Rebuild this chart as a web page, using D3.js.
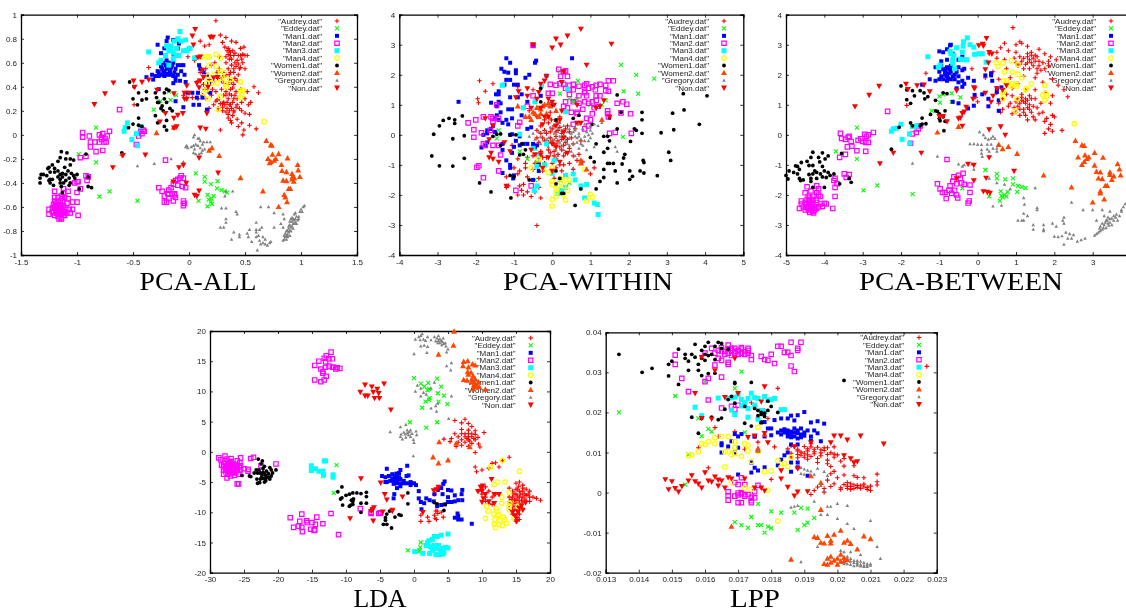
<!DOCTYPE html>
<html>
<head>
<meta charset="utf-8">
<script src="https://d3js.org/d3.v7.min.js"></script>
<style>
  html, body { margin: 0; padding: 0; background: #fff; overflow: hidden; }
  svg { display: block; filter: blur(0.35px); }
</style>
</head>
<body>
<svg id="chart" width="1126" height="609"></svg>
<script>
const seriesNames = ['"Audrey.dat"', '"Eddey.dat"', '"Man1.dat"', '"Man2.dat"', '"Man3.dat"', '"Man4.dat"', '"Women1.dat"', '"Women2.dat"', '"Gregory.dat"', '"Non.dat"'];

// PCA-ALL
const allAudrey = [[.24,.95],[.28,.83],[.33,.81],[.38,.78],[.2,.82],[.18,.75],[.14,.74],[.1,.78],[.3,.77],[.34,.7],[.37,.69],[.42,.77],[.46,.72],[.49,.73],[.5,.66],[.52,.66],[.47,.63],[.43,.62],[.4,.66],[.35,.67],[.36,.63],[.33,.6],[.38,.58],[.42,.57],[.48,.6],[.5,.55],[.44,.5],[.4,.52],[.35,.55],[.3,.52],[.27,.55],[.23,.6],[.2,.58],[.15,.55],[.1,.52],[.05,.62],[-.01,.65],[.08,.45],[.13,.42],[.18,.46],[.22,.44],[.26,.47],[.31,.43],[.36,.46],[.4,.42],[.43,.45],[.46,.38],[.42,.36],[.37,.38],[.33,.36],[.29,.38],[.24,.36],[.2,.33],[.15,.3],[.12,.33],[.08,.3],[.03,.31],[-.02,.31],[-.05,.33],[.27,.3],[.31,.27],[.35,.3],[.39,.27],[.43,.3],[.47,.27],[.5,.3],[.53,.25],[.55,.27],[.42,.23],[.38,.22],[.34,.22],[.3,.2],[.26,.22],[.22,.25],[.18,.22],[.35,.17],[.39,.16],[.43,.13],[.47,.2],[.5,.18],[.54,.17],[.54,.08],[.47,.1],[.44,.07],[.49,.04],[.6,.05],[.48,0],[.38,.1],[.28,.04],[.4,.3],[.33,.33],[.58,.4],[.62,.35],[.52,.36],[.36,.5],[.3,.48],[.25,.52],[.45,.55],[.38,.63],[.27,.65],[.32,.73],[-.36,.56],[-.49,.25],[-.6,-.17],[.36,.25],[.32,.25],[.38,.33],[.36,.7],[.39,.7],[.41,.68],[.44,.66],[.46,.66],[.48,.67],[.37,.66],[.35,.72],[.33,.65],[.41,.6],[.44,.59],[.46,.56],[.4,.55],[.37,.52],[.33,.5],[.29,.45],[.35,.42],[.39,.39],[.41,.33],[.36,.34],[.31,.33],[.34,.27],[.37,.25],[.4,.2],[.36,.2],[.33,.19],[.3,.26],[.28,.26],[.25,.29],[.3,.23],[.35,.14],[.37,.12],[.4,.19],[.43,.25],[.45,.22],[.24,.28],[.21,.38],[.17,.36],[.14,.38],[.41,.47],[.38,.44]];
const allEddey = [[-.83,.06],[-.985,-.16],[-.83,-.23],[-.71,-.47],[-.8,-.515],[-.46,-.55],[-.18,.36],[-.255,.28],[-.165,.29],[-.315,.21],[-.115,.33],[.06,-.32],[.14,-.35],[.14,-.39],[.195,-.41],[.255,-.385],[.25,-.445],[.29,-.46],[.32,-.47],[.34,-.48],[.165,-.5],[.22,-.51],[.085,-.55],[.175,-.54],[.195,-.555],[.165,-.595],[.205,-.575],[.2,-.53]];
const allMan1 = [[-.28,.75],[-.2,.78],[-.19,.81],[-.14,.79],[-.09,.76],[-.1,.72],[-.22,.72],[-.25,.68],[-.21,.66],[-.17,.7],[-.14,.67],[-.2,.62],[-.23,.6],[-.18,.59],[-.14,.6],[-.24,.55],[-.2,.55],[-.16,.56],[-.1,.58],[-.07,.58],[-.05,.58],[-.33,.5],[-.3,.49],[-.27,.52],[-.25,.5],[-.22,.49],[-.19,.5],[-.16,.5],[-.13,.52],[-.1,.5],[-.07,.53],[-.04,.5],[-.28,.53],[-.22,.53],[-.17,.53],[-.12,.48],[-.08,.45],[-.14,.43],[-.38,.48],[-.32,.46],[-.12,.45],[-.03,.44],[.09,.58],[.1,.55],[.18,.43],[-.01,.35],[.03,.35],[.04,.25],[.08,.35],[.07,.31],[.12,.31],[.09,.25],[.16,.21],[-.05,.23],[-.12,.28],[.19,.35],[-.27,.38],[.16,.5],[.13,.52],[-.21,.58],[-.19,.56],[-.23,.52],[-.2,.51],[-.18,.6],[-.15,.58],[-.12,.55],[-.25,.57],[-.27,.49],[-.14,.49]];
const allMan2 = [[-.62,.21],[-.95,.02],[-.95,-.02],[-.89,-.01],[-.88,-.06],[-.84,-.06],[-.8,-.06],[-.78,-.04],[-.75,-.03],[-.73,-.01],[-.78,-.02],[-.76,-.06],[-.74,-.06],[-.8,0],[-.77,.01],[-.71,.03],[-.88,-.1],[-.83,-.14],[-.77,-.13],[-.97,-.19],[-.92,-.18],[-.92,-.34],[-.91,-.38],[-.9,-.35],[-1,-.39],[-.99,-.39],[-1,-.48],[-1.02,-.4],[-.97,-.45],[-.47,-.08],[-.42,.01],[-.43,.03],[-.41,.04],[-.45,-.01],[-.4,.03],[-.21,-.21],[-.27,-.44],[-.24,-.47],[-.22,-.51],[-.19,-.49],[-.18,-.46],[-.16,-.44],[-.14,-.41],[-.12,-.38],[-.1,-.37],[-.08,-.36],[-.07,-.34],[-.05,-.36],[-.1,-.42],[-.06,-.43],[-.03,-.44],[-.15,-.49],[-.13,-.49],[-.12,-.52],[-.2,-.56],[-.14,-.55],[-.13,-.5],[-.05,-.55],[-.04,-.57],[-.05,-.59],[-.22,-.56],[-.18,-.53],[-1.2,-.47],[-1.12,-.45],[-1.12,-.48],[-1.08,-.47],[-1.2,-.52],[-1.17,-.52],[-1.14,-.51],[-1.11,-.52],[-1.08,-.53],[-1.04,-.56],[-1,-.56],[-1.2,-.55],[-1.17,-.56],[-1.13,-.55],[-1.09,-.57],[-1.21,-.58],[-1.18,-.59],[-1.15,-.58],[-1.12,-.59],[-1.25,-.62],[-1.22,-.61],[-1.19,-.62],[-1.16,-.61],[-1.13,-.62],[-1.1,-.62],[-1.07,-.62],[-1.04,-.62],[-1.25,-.66],[-1.21,-.65],[-1.18,-.65],[-1.15,-.65],[-1.12,-.65],[-1.09,-.65],[-1.06,-.65],[-.99,-.67],[-1.2,-.67],[-1.17,-.68],[-1.14,-.69],[-1.16,-.7],[-1.14,-.7],[-1.11,-.67],[-1.19,-.64],[-1.17,-.63],[-1.15,-.63],[-1.13,-.64],[-1.11,-.64],[-1.16,-.66],[-1.14,-.66],[-1.12,-.67],[-1.18,-.6],[-1.16,-.59],[-1.14,-.6],[-1.19,-.57],[-1.15,-.55],[-1.13,-.53],[-1.22,-.64],[-1.2,-.6]];
const allMan3 = [[-.36,.69],[-.27,.6],[-.25,.62],[-.21,.66],[-.18,.7],[-.2,.74],[-.16,.74],[-.13,.78],[-.1,.8],[-.08,.86],[-.07,.78],[-.03,.79],[0,.72],[.01,.72],[-.02,.7],[-.05,.7],[-.09,.66],[-.11,.66],[-.14,.63],[-.18,.58],[-.16,.7],[-.11,.72],[-.14,.68],[.05,.64],[-.58,.03],[-.57,.06],[-.55,.1],[-.51,-.04],[-.47,.01],[-.43,.07],[-.46,-.09]];
const allMan4 = [[.11,.65],[.16,.65],[.18,.65],[.24,.67],[.28,.64],[.18,.58],[.24,.57],[.28,.53],[.31,.52],[.17,.49],[.22,.5],[.28,.47],[.33,.46],[.37,.46],[.46,.44],[.25,.43],[.33,.42],[.16,.38],[.13,.35],[.46,.37],[.48,.37],[.47,.33],[.46,.31],[.28,.32],[.17,.3],[.26,.21],[.67,.11],[.33,.4],[.2,.43],[.16,.43]];
const allWomen1 = [[-1.32,-.33],[-1.33,-.36],[-1.33,-.4],[-1.3,-.33],[-1.27,-.34],[-1.26,-.28],[-1.25,-.27],[-1.24,-.31],[-1.22,-.25],[-1.25,-.38],[-1.24,-.37],[-1.22,-.37],[-1.24,-.4],[-1.21,-.42],[-1.2,-.31],[-1.17,-.22],[-1.15,-.19],[-1.14,-.14],[-1.1,-.2],[-1.09,-.15],[-1.06,-.25],[-1.03,-.21],[-1.06,-.2],[-1.13,-.32],[-1.15,-.33],[-1.17,-.35],[-1.13,-.35],[-1.1,-.33],[-1.07,-.36],[-1.05,-.32],[-1.03,-.34],[-1,-.33],[-1.02,-.36],[-1.15,-.4],[-1.12,-.4],[-1.1,-.38],[-1.06,-.4],[-1.14,-.43],[-1.13,-.48],[-1.07,-.42],[-1.15,-.37],[-1.08,-.3],[-1.11,-.27],[-1.17,-.3],[-1.2,-.28],[-.92,-.16],[-.9,-.35],[-.9,-.43],[-.87,-.44],[-.98,-.45],[-.6,-.15],[-.53,.44],[-.49,.4],[-.5,.3],[-.46,.25],[-.45,.35],[-.42,.29],[-.38,.36],[-.38,.3],[-.3,.35],[-.29,.31],[-.27,.27],[-.24,.24],[-.22,.3],[-.2,.27],[-.18,.37],[-.2,.38],[-.22,.35],[-.23,.2],[-.25,.22],[-.28,.27],[-.17,.22],[-.15,.2],[-.3,.16],[-.2,.12],[-.28,.1],[-.22,.07],[-.2,.04],[-.45,.08],[-.42,.07],[-.45,.14],[-.5,.09],[-.54,.06]];
const allWomen2 = [[-.29,.015],[-.135,.06],[.205,-.11],[.18,-.13],[.27,-.175],[.46,-.36],[.66,-.47],[.8,-.6],[.875,-.56],[.85,-.5],[.86,-.52],[.69,-.05],[.73,-.085],[.74,-.09],[.745,-.165],[.8,-.16],[.705,-.2],[.73,-.225],[.76,-.215],[.775,-.2],[.72,-.235],[.88,-.195],[.825,-.25],[.83,-.3],[.87,-.31],[.84,-.38],[.87,-.385],[.89,-.45],[.905,-.45],[.92,-.325],[.925,-.35],[.935,-.39],[.94,-.36],[.99,-.35],[.97,-.25],[.975,-.295],[.92,-.37]];
const allGregory = [[.04,-.09],[-.02,-.09],[-.03,-.1],[-.01,-.11],[.02,-.1],[.06,-.08],[.08,-.09],[.09,-.03],[.04,-.02],[.05,0],[.1,-.05],[.12,-.08],[.13,-.06],[.16,-.06],[.14,-.12],[.12,-.13],[.1,-.11],[.05,-.12],[.06,-.16],[.09,-.16],[.11,-.15],[.04,-.15],[.08,-.03],[.19,-.06],[-.31,-.24],[-.46,-.26],[-.16,-.2],[-.05,-.225],[.33,-.47],[.39,-.47],[.32,-.51],[.29,-.61],[.33,-.61],[.42,-.64],[.43,-.66],[.33,-.7],[.33,-.73],[.28,-.77],[.31,-.77],[.4,-.81],[.45,-.85],[.45,-.83],[.38,-.87],[.54,-.79],[.52,-.82],[.53,-.85],[.56,-.89],[.6,-.81],[.6,-.85],[.62,-.84],[.6,-.73],[.6,-.79],[.63,-.79],[.65,-.77],[.63,-.88],[.66,-.9],[.68,-.91],[.7,-.92],[.72,-.9],[.73,-.89],[.68,-.87],[.66,-.85],[.61,-.96],[.64,-.91],[.76,-.77],[.82,-.74],[.84,-.77],[.64,-.6],[.71,-.6],[.76,-.65],[.84,-.66],[.85,-.7],[.84,-.88],[.85,-.87],[.86,-.85],[.87,-.87],[.88,-.83],[.88,-.8],[.9,-.84],[.89,-.78],[.9,-.75],[.91,-.8],[.92,-.76],[.92,-.72],[.93,-.78],[.94,-.74],[.95,-.7],[.93,-.7],[.96,-.74],[.97,-.71],[.98,-.68],[.99,-.64],[1,-.62],[1.01,-.64],[1.02,-.6],[1.03,-.59],[.9,-.72],[.88,-.85],[.86,-.82],[.9,-.8],[.94,-.66],[.95,-.65],[.98,-.7],[.91,-.77],[.93,-.74],[.89,-.81],[.87,-.8],[.92,-.69],[.94,-.71],[.96,-.68],[.91,-.7],[.89,-.76],[.87,-.84],[.85,-.84],[.95,-.73]];
const allNon = [[-.675,.435],[-.75,.345],[-.845,.255],[-.495,.45],[-.485,.4],[-.42,.44],[-.36,.46],[.055,.88],[.03,.825],[.19,.815],[.215,.815],[.04,.75],[.1,.65],[.08,.645],[.12,.54],[.1,.45],[.13,.48],[.22,.475],[.255,.48],[.17,.4],[.09,.395],[.07,.43],[-.02,.41],[-.04,.35],[0,.35],[-.04,.3],[-.02,.3],[-.135,.345],[-.285,.375],[-.055,.18],[-.1,.165],[-.135,.14],[-.21,.18],[-.26,.11],[-.11,.07],[-.135,.06],[.1,.06],[.15,.05],[.09,-.19],[-.05,-.25],[-.09,-.27],[-.39,-.165],[-.59,-.17],[-.68,-.27],[.26,-.315],[-.14,-.39],[-.025,-.4],[.09,-.465],[.05,-.5],[.07,-.51],[.16,.18]];

// PCA-WITHIN
const withinAudrey = [[-1.9,1.8],[-1.55,1.7],[-1.75,1.45],[-1.95,1.2],[-1.93,1.07],[-.5,1.5],[-.9,1.6],[-.6,.8],[-.4,.6],[-.3,.3],[-.2,.15],[-.1,.4],[0,.2],[.1,.1],[.2,.25],[.3,.1],[.4,.3],[.1,-.05],[-.05,-.1],[.25,-.15],[-.2,-.2],[.1,-.3],[.35,-.25],[-.1,-.5],[.05,-.55],[.25,-.5],[.45,-.45],[-.3,-.55],[-.5,-.7],[-.15,-.75],[.1,-.8],[.3,-.7],[.55,-.7],[.7,-.65],[-.7,-.95],[-.45,-.95],[-.2,-.95],[0,-.95],[.2,-1],[.45,-.95],[.65,-.85],[.8,-.9],[-1,-1.1],[-.85,-1.2],[-.7,-1.1],[-.5,-1.15],[-.25,-1.2],[.25,-1.2],[.55,-1.15],[1,-1.3],[1.1,-1.1],[-1.2,-1.4],[-.9,-1.3],[-.65,-1.4],[-.35,-1.45],[.05,-1.45],[-1.2,-1.75],[-1.15,-1.7],[-.85,-1.7],[-.8,-1.85],[-.75,-1.65],[-.65,-1.9],[-.55,-2.05],[-.45,-1.9],[-.3,-2.1],[-.35,-1.75],[-.75,-2],[-.9,-2],[-.4,-3.02],[-1.05,-.35],[-.9,-.8],[-.35,-.25],[.6,.2],[.5,-.1],[.75,-.2],[-.05,.75],[.2,.6],[-.15,.05],[.05,.3],[.15,.4],[.25,.05],[.35,.2],[-.05,.1],[0,-.2],[.15,-.2],[.3,-.35],[-.15,-.3],[-.25,-.1],[.05,-.35],[-.1,-.25],[.2,-.4],[.4,-.15],[.45,.1],[.1,.45],[-.2,.5],[-.3,.05],[-.4,-.1],[-.4,.15],[.55,-.3],[.05,-.7],[-.05,-.6],[.15,-.65],[.35,-.6],[-.25,-.75],[-.35,-.9],[-.65,-.75],[.1,-1.1],[.3,-1],[.15,.15],[-.02,.5]];
const withinEddey = [[1.8,2.33],[2.2,2],[2.67,1.87],[.67,1.8],[1.87,1.45],[2.25,1.37],[.2,1.37],[.55,1.15],[.55,1.1],[.65,1.2],[1.3,1],[1.4,1.15],[1.07,.95],[.2,2.12],[1.85,-.07],[-.85,-.55],[-.65,-.8],[-1.45,-.12],[-.45,-.45],[.45,-1.6],[-.45,-1.5],[.45,1.2],[1,1],[-1.4,.15],[-.4,-.9]];
const withinMan1 = [[-2.45,1.1],[-1.2,2.55],[-1.1,2.4],[-1.33,2.2],[-1.25,2.1],[-1.15,2.07],[-.95,2.15],[-.95,2.05],[-.7,1.9],[-.6,2],[-1.2,1.83],[-1.1,1.83],[-1,1.67],[-1.25,1.67],[-.9,1.67],[-.45,2.4],[-.42,2.47],[.52,2.55],[-.15,1.97],[-1.4,1.45],[-1.4,1.35],[-1.47,1.35],[-1.4,1.1],[-1.35,1.05],[-1.45,.95],[-1.6,1.07],[-1.1,1.25],[-.9,1.25],[-.8,1.35],[-.65,1.1],[-.8,.65],[-1.15,.85],[-1.05,.85],[-1.35,.75],[-1.45,.65],[-1.5,.55],[-1.4,.5],[-1.2,.5],[-1.3,.4],[-1.15,.35],[-1.55,.3],[-1.6,.2],[-1.7,.15],[-1.5,.1],[-1.7,.05],[-1.8,0],[-1.05,.55],[-.65,.2],[-.55,.25],[-.3,1.3],[-1.3,-.3],[-1.3,-.5],[-1.2,-.85],[-1.1,-1],[-1.1,-1.1],[-1.3,-1.27],[-1,-.4],[-1.05,-.6],[-.95,-.2],[-.85,-.05],[-.75,-.3],[-.85,-.35],[-.65,-.3],[-.5,-.3],[-.45,-.4],[-.35,-1],[-.35,-1.2],[-1,-1.35],[-1.02,-1.45],[-.5,-1.5],[-.4,-.35],[-.5,-.4],[-1.75,-.35],[-1.85,-.42],[-1.7,-.25],[-1.1,0],[-1.05,.02],[-.5,3]];
const withinMan2 = [[.17,2.18],[.3,2.1],[.35,2.13],[.22,1.95],[.4,1.95],[-.05,1.68],[.1,1.65],[.2,1.7],[.3,1.68],[.45,1.65],[.55,1.68],[.7,1.62],[.85,1.65],[.9,1.7],[1.15,1.65],[1.25,1.68],[1.4,1.65],[1.47,1.8],[1.6,1.8],[.35,1.55],[.45,1.5],[.55,1.5],[.85,1.45],[.95,1.55],[1.05,1.6],[1.13,1.5],[1.4,1.47],[1.47,1.45],[-.5,1.3],[-.1,1.38],[0,1.38],[.45,1.35],[.7,1.3],[.85,1.4],[.9,1.3],[1.15,1.3],[1.25,1.3],[.35,1.1],[.55,1.1],[.7,1.05],[.85,1.1],[.95,1.05],[1.05,1.1],[1.15,1.15],[.3,.95],[.4,.9],[.65,.75],[.8,.85],[1.1,.9],[1.2,.95],[1.45,.8],[1.05,.7],[1.7,1.05],[1.85,1.1],[1.95,1.02],[1.45,.7],[1.47,.6],[1.8,.73],[2.05,.7],[.5,.75],[.65,.7],[.9,.55],[1,.5],[.55,.35],[.85,.2],[.95,.3],[1.5,.05],[1.65,.08],[2.07,.05],[-2,.5],[-2.2,.4],[-2.05,.17],[-2.05,-.08],[-1.85,.07],[-1.8,.6],[-1.6,.6],[-1.55,.55],[-1.55,.45],[-1.62,.15],[-1.4,.55],[-1.45,1],[-.9,.3],[-.85,.42],[-.05,1],[-.65,.95],[-1.8,-.3],[-1.75,-.35],[-1.55,-.35],[-1.4,-.35],[-1.35,-.67],[-1.4,-1.2],[-1.92,-1.03],[-1.97,-1.08],[-1.8,-1.43],[-.95,-1.85],[-.55,-1.7],[-.35,-.7],[-.5,2.98]];
const withinMan3 = [[-1.3,1.65],[-.45,1.1],[-.28,1.65],[.4,1.52],[.35,.77],[-.75,.9],[-.85,.02],[-.5,-.45],[-.15,-.3],[-.4,-1.05],[-.2,-1],[.05,-.85],[0,-1.28],[.2,-1.5],[.35,-1.35],[.55,-1.3],[.6,-1.5],[.35,-1.75],[.25,-1.85],[.75,-1.7],[.9,-1.65],[.85,-2.1],[1.1,-2.27],[1.18,-2.32],[1.2,-2.65],[.15,-1.95],[-.4,-1.7],[-.47,-1.85],[-.35,-.7]];
const withinMan4 = [[0,-1.55],[.2,-1.45],[.25,-1.5],[.45,-1.5],[.85,-1.15],[-.55,-1.1],[-.35,-.8],[-.25,-1.1],[-.1,-1.25],[0,-1.1],[0,-1.65],[.1,-1.8],[.1,-1.9],[.15,-1.7],[.3,-1.7],[.35,-1.5],[.3,-2],[0,-2.15],[.1,-2.05],[0,-2.37],[.35,-2.17],[.9,-2.2],[1,-1.98],[1.05,-2.08],[.4,-1.85]];
const withinWomen1 = [[-3.15,-.7],[-2.95,-1.03],[-2.6,-1.04],[-2.3,-.78],[-3.1,.02],[-2.95,.3],[-2.85,.48],[-2.7,.55],[-2.55,.5],[-2.55,.38],[-2.35,.63],[-2.6,-.13],[-2.3,-.03],[-1.9,-1.6],[-1.6,-1.9],[-1.08,-2.1],[-1.1,-1.35],[-1,-1.4],[-.6,-1.5],[.1,-1.2],[.1,-1.63],[.25,-1.95],[.2,-1.45],[.3,-1.95],[.6,-2.35],[.75,-1.8],[1.15,-1.8],[1.25,-1.55],[1.35,-1.42],[1.35,-1.15],[1.65,-1.2],[1.7,-1.6],[1.35,-.58],[1.45,-.95],[1.5,-.95],[1.6,-.95],[1.45,-.45],[1.5,-.2],[1.35,-.05],[1.45,-.05],[1.1,-.9],[1,-.75],[1.15,-.3],[1.05,.35],[1.5,.57],[1.7,.2],[1.7,1.33],[1.8,.75],[2.15,.2],[2.2,.15],[2.35,.75],[2.35,.5],[2.35,.05],[2.05,-.22],[1.9,-.65],[1.87,-.77],[1.83,-.97],[2.03,-1.2],[2.03,-1.48],[2.1,-1.38],[2.3,-1.2],[2.4,-1.27],[2.38,-.85],[2.4,-.92],[2.75,-1.36],[2.85,.07],[3.05,-.58],[3.1,-.85],[3.15,.72],[3.18,.17],[3.43,1.37],[3.45,.83],[3.85,.35],[4.05,1.3],[.7,.65],[.55,.55],[-.7,-.5],[-.85,-.67],[-.75,-.65],[-.95,0],[-.8,-.3],[-1.1,0],[-.3,1.55],[-.3,1.1],[.1,.5],[0,1],[-1.35,.03],[-1.45,.02],[-1.35,-.35],[-1.55,-.05]];
const withinWomen2 = [[-.9,.95],[-.7,.6],[-.6,.6],[-.55,.5],[-.5,.75],[-.45,.7],[-.4,.9],[-.3,.85],[-.25,.95],[-.2,1],[-.15,.7],[-.1,1.05],[-.05,.95],[.1,.8],[1.3,.5],[.75,-.85],[.75,-.95],[.9,-1.15],[-.35,.6],[-.1,.6],[-.3,.7]];
const withinGregory = [[-.5,.05],[-.45,-.15],[-.3,-.05],[-.2,.1],[-.1,-.1],[-.05,.25],[.05,.05],[.1,-.1],[.15,.2],[.2,-.05],[.25,.15],[.3,0],[.35,-.2],[.4,.1],[.45,-.1],[.5,.05],[.55,-.3],[.6,.15],[.65,-.1],[.7,.05],[.75,-.3],[.8,.2],[.85,-.05],[.9,.1],[.95,-.2],[1,.3],[1.05,.05],[1.1,.35],[1.2,.3],[1.3,.4],[1.1,-.4],[.9,-.5],[.7,-.45],[.5,-.55],[.3,-.5],[.1,-.5],[-.1,-.4],[-.3,-.3],[.3,.3],[.5,.3],[.7,.35],[.2,.4],[.6,-.05],[.4,-.3],[.2,-.25],[-.05,-.25],[.75,-.15],[1,-.1],[1.65,-.4],[1.7,-.55],[.55,-1.1],[.6,-.7],[.15,-.7],[.35,-.05],[.55,.1],[.65,-.25],[.45,-.35],[.8,-.35],[.85,-.2],[.7,-.05],[.95,0],[.25,-.35],[.15,.1],[.05,-.15],[-.15,-.15],[-.35,.1],[-.6,-.05],[.6,.25],[.85,.35],[.45,.2],[.3,.15],[1,.15]];
const withinNon = [[.75,3.53],[.4,3.3],[.1,3.2],[.22,3],[0,2.9],[-.5,3],[1.55,3.03],[.9,2.33],[.3,2.1],[-.15,1.95],[-.2,1.8],[.25,1.75],[-.3,1.7],[-.88,1.45],[-.65,1.55],[-.95,1.25],[-.65,1.3],[-.35,1.42],[-.4,1.2],[0,1.1],[.05,1],[-.1,1.2],[-.55,.9],[-.3,.9],[-.2,.6],[.2,.5],[.65,.4],[.75,.4],[.65,1],[1.15,.9],[1.25,.95],[1.35,1.15],[1.5,.6],[-1.75,.55],[-1.55,.3],[-1.65,-.15],[-1.6,-.6],[-1.65,-.75],[-1.55,-.8],[-1.4,-.9],[-1.25,-.25],[-1.1,-.55],[-1.2,-1.7],[.25,.8],[.3,-.1],[0,-.3],[.1,-.4],[-.45,-.65],[-.55,-.5],[-.3,-.65],[-.1,-.75],[-.25,-1.1],[0,-1.2],[.4,-.6],[.2,-.9],[.3,.1],[.1,.3],[-.1,.6],[-.25,.35]];

// PCA-BETWEEN
const betweenAudrey = [[.92,3.57],[1.1,3.1],[1,3],[.7,3.05],[.6,2.9],[1.15,3.05],[1.3,2.95],[1.6,2.85],[.8,2.8],[.5,2.75],[.3,2.7],[1,2.75],[1.3,2.7],[1.4,2.65],[1.55,2.6],[1.75,2.7],[1.9,2.6],[2.05,2.5],[1.85,2.45],[1.7,2.4],[1.5,2.45],[1.35,2.5],[1.15,2.45],[.95,2.55],[.7,2.5],[.5,2.55],[1.1,2.35],[1.2,2.2],[1.35,2.2],[1.55,2.2],[1.75,2.2],[.75,2.2],[.4,2.1],[.2,1.9],[.55,1.85],[.85,1.9],[1.2,1.95],[1.5,1.9],[1.7,1.75],[1.95,1.85],[1.05,1.7],[.9,1.55],[1.25,1.5],[1.5,1.5],[1.75,1.4],[2.1,1.65],[2.25,1.5],[2.35,1.27],[1.95,1.3],[1.9,1.05],[1.65,1.05],[1.4,1.2],[1.15,1.25],[.9,1.3],[.65,1.2],[.55,1.05],[.85,1.05],[1.1,1.05],[1.35,1],[1.55,.9],[.95,.9],[1.2,.85],[1.4,.75],[1.7,.75],[1.95,.65],[2,.6],[1.8,.55],[.9,.7],[.6,.75],[.65,.85],[1.5,.5],[1.75,.45],[1.9,.35],[1.85,.2],[1.75,.05],[1.95,.12],[2.2,.15],[1.1,.65],[1.25,.65],[1.3,.5],[1.15,1.15],[1.2,1.1],[1,1.1],[1.05,.95],[1.25,1.05],[1.05,1.2],[1.4,2.4],[1.45,2.3],[1,2.4],[1.05,2.3],[1.25,2.35],[1.6,2.3],[-.15,2.2],[-1.35,2.05],[-1.85,.98],[-.05,1.25],[0,1.1],[.5,1.4],[1.3,2.6],[1.4,2.75],[1.45,2.55],[1.6,2.45],[1.3,2.4],[1.5,2.65],[1.2,2.55],[1.1,2.6],[1.65,2.15],[1.85,2.3],[1.55,2.05],[1.25,1.2],[1.35,1.3],[1.5,1.2],[1.3,.9],[1.45,.95],[1.1,.85],[1.35,.85],[1.2,.75],[1.15,1.35],[1,.75],[1.3,1.15],[1.6,.7],[1.45,.6],[.8,.95],[.75,1.35]];
const betweenEddey = [[-3.15,.24],[-3.7,-.55],[-3.15,-.8],[-2.98,-1.85],[-2.62,-1.68],[-1.7,-1.97],[-1,1.28],[-.98,1.07],[-1.2,.8],[-.9,1.35],[-.68,1.38],[-.68,1.1],[-.45,1.25],[.2,-1.17],[.5,-1.3],[.5,-1.45],[.72,-1.48],[.92,-1.45],[.92,-1.65],[1.05,-1.7],[1.15,-1.73],[1.25,-1.77],[.7,-2],[.6,-1.88],[.3,-2.05],[.62,-2.03],[.75,-2.05],[.58,-2.2],[.65,-2.08],[.78,-1.9],[1.03,-1.9],[-.4,-1.78]];
const betweenMan1 = [[-.72,2.98],[-.7,3],[-.8,2.85],[-.9,2.75],[-1,2.78],[-.65,2.7],[-.4,2.6],[-.35,2.5],[-.5,2.5],[-.8,2.5],[-.95,2.45],[-1.1,2.25],[-.95,2.3],[-.8,2.25],[-.7,2.3],[-.5,2.25],[-.35,2.2],[-1,2.1],[-.85,2.1],[-.7,2.1],[-.55,2.1],[-.4,2.15],[-1.25,1.85],[-1.1,1.8],[-1,1.85],[-.9,1.85],[-.8,1.8],[-.7,1.85],[-.6,1.85],[-.5,1.75],[-.4,1.8],[-.25,1.9],[-.95,1.95],[-.8,1.95],[-.65,1.95],[-.5,1.95],[-.1,1.8],[-.4,1.6],[-.55,1.55],[-.35,1.7],[-1.45,1.67],[.2,1.98],[.35,2.05],[.35,1.98],[.38,1.8],[.5,1.55],[.62,1.58],[-.08,1.33],[.12,1.35],[-.1,.97],[.28,1.2],[.28,.95],[.55,1.15],[.55,.8],[.5,1.43],[-.25,.88],[-.65,1.1],[-.5,1.05],[-.75,2.05],[-.78,1.9],[-.85,2],[-.72,2.18],[-.82,2.2],[-.9,2.18],[-.6,2]];
const betweenMan2 = [[-2.35,.78],[-3.58,.05],[-3.55,-.12],[-3.45,-.15],[-3.38,-.08],[-3.35,-.05],[-3.3,-.22],[-3.28,-.38],[-3.12,-.18],[-3.05,-.13],[-3,-.22],[-2.95,.02],[-2.9,-.05],[-2.85,0],[-2.92,-.25],[-2.85,-.25],[-2.72,.08],[-3.4,-.4],[-3.15,-.53],[-2.92,-.55],[-3.6,-.75],[-3.45,-.65],[-3.48,-1.3],[-3.43,-1.42],[-3.35,-1.32],[-3.72,-1.45],[-3.67,-1.63],[-3.75,-1.52],[-3.72,-1.75],[-3.72,-2.05],[-3.78,-2.45],[-1.75,-.28],[-1.7,.03],[-1.6,.08],[-1.55,.2],[-1.5,.3],[-.8,-.82],[-1.05,-1.63],[-.98,-1.8],[-.92,-1.92],[-.85,-1.92],[-.82,-2.12],[-.75,-1.85],[-.72,-1.7],[-.65,-1.55],[-.62,-1.4],[-.5,-1.35],[-.45,-1.45],[-.38,-1.28],[-.6,-1.85],[-.55,-1.63],[-.42,-1.6],[-.35,-1.65],[-.68,-1.95],[-.55,-2],[-.52,-2.1],[-.2,-1.67],[-.2,-1.92],[-.22,-2.2],[-.25,-2.27],[-4.6,-2.2],[-4.45,-1.73],[-4.5,-1.93],[-4.35,-1.87],[-4.2,-1.7],[-4.2,-1.92],[-4.1,-2.05],[-4,-2.28],[-4.42,-2.05],[-4.3,-2.05],[-4.15,-2],[-4.6,-2.3],[-4.5,-2.25],[-4.4,-2.2],[-4.3,-2.25],[-4.2,-2.25],[-4.1,-2.3],[-4.65,-2.45],[-4.55,-2.4],[-4.45,-2.4],[-4.35,-2.4],[-4.25,-2.4],[-4.15,-2.4],[-4.05,-2.38],[-4.5,-2.5],[-4.4,-2.52],[-4.3,-2.55],[-4.2,-2.45],[-4.38,-2.58],[-4.28,-2.6],[-3.95,-2.3],[-4.47,-2.33],[-4.4,-2.3],[-4.35,-2.35],[-4.3,-2.45],[-4.25,-2.5],[-4.45,-2.15],[-4.38,-2.1],[-4.3,-2.15],[-4.35,-2.5],[-4.42,-2.45],[-4.32,-2.32],[-4.48,-2.42],[-4.22,-2.18],[-4.15,-1.8]];
const betweenMan3 = [[-1.3,2.6],[-1.03,2.25],[-.98,2.32],[-.72,2.78],[-.7,2.7],[-.62,2.65],[-.65,2.5],[-.65,2.38],[-.6,2.2],[-.55,2.9],[-.4,2.75],[-.38,2.95],[-.37,3.1],[-.27,3.23],[-.2,3],[-.1,2.92],[-.08,2.68],[.03,2.7],[.12,2.7],[.22,2.42],[-.28,2.5],[-.35,2.5],[-.45,2.52],[-2.25,.12],[-2.2,.2],[-2.12,.22],[-2,.35],[-1.97,-.15],[-1.78,.03],[-1.7,.28],[-1.77,-.28],[-1.6,.3]];
const betweenMan4 = [[.48,2.4],[.53,2.28],[.66,2.4],[.88,2.47],[.7,2.1],[.9,2.1],[1.05,2.02],[1.15,1.9],[.68,1.8],[.75,1.8],[.9,1.7],[1,1.7],[1.02,1.62],[.87,1.62],[1.25,1.5],[1.27,1.55],[1.4,1.7],[1.75,1.65],[.68,1.45],[.65,1.4],[1.03,1.2],[.98,.8],[1.7,1.33],[1.78,1.38],[1.8,1.3],[1.75,1.15],[2.52,.37],[1.05,2.35],[.65,1.2]];
const betweenWomen1 = [[-5,-1.35],[-4.95,-1.47],[-4.92,-1.2],[-4.8,-1.25],[-4.7,-1.3],[-4.75,-1.03],[-4.7,-1.05],[-4.65,-1.15],[-4.6,-.92],[-4.55,-1.5],[-4.65,-1.45],[-4.62,-1.52],[-4.45,-.88],[-4.4,-1.02],[-4.3,-1.02],[-4.35,-.75],[-4.3,-.58],[-4.25,-1.2],[-4.15,-.75],[-4.12,-.9],[-4.05,-1.05],[-3.98,-.8],[-3.9,-.7],[-4.05,-.6],[-4.4,-1.32],[-4.3,-1.3],[-4.2,-1.25],[-4.1,-1.3],[-4,-1.2],[-3.9,-1.25],[-3.85,-1.35],[-3.75,-1.3],[-4.35,-1.45],[-4.35,-1.55],[-4.2,-1.45],[-4.05,-1.4],[-3.95,-1.42],[-4.3,-1.75],[-4,-1.75],[-3.6,-1.63],[-3.55,-.62],[-3.35,-1.45],[-3.3,-1.58],[-2.25,-.48],[-2,1.63],[-1.85,1.5],[-1.85,1.17],[-1.75,1.05],[-1.7,.3],[-1.7,1.47],[-1.65,1.3],[-1.5,1.47],[-1.4,1.4],[-1.38,1.2],[-1.35,.37],[-1.3,1.27],[-1.23,.68],[-1.1,.8],[-1.1,1.15],[-1.05,.78],[-1,.55],[-.9,1.4],[-.85,.8],[-1,.7],[-.9,.6],[-.88,.14],[-1.75,.4],[-1.45,.56],[-1.45,.36],[-1.5,.3],[-2.05,.25],[-.98,.47],[-.85,.45],[-.8,1.37]];
const betweenWomen2 = [[-1.05,.08],[-.5,.27],[.55,-.33],[.65,-.47],[.8,-.4],[1.03,-.63],[1.72,-1.35],[2.45,-1.75],[3,-2.25],[3.3,-2.15],[3.2,-1.88],[3.2,-1.95],[2.55,-.2],[2.72,-.35],[2.78,-.37],[2.62,-.75],[2.8,-.68],[2.72,-1],[2.78,-.9],[2.85,-.8],[2.9,-.75],[3.05,-.6],[3.27,-.76],[3.05,-1.02],[3.1,-1.23],[3.2,-1.25],[3.15,-1.45],[3.25,-1.47],[3.33,-1.7],[3.38,-1.7],[3.45,-1.25],[3.45,-1.33],[3.5,-1.5],[3.55,-1.38],[3.65,-.97],[3.7,-1.15],[3.73,-1.35]];
const betweenGregory = [[.05,.1],[.15,0],[.2,-.1],[.28,-.15],[.35,-.12],[.4,-.05],[.45,-.13],[-.2,-.3],[-.1,-.3],[0,-.32],[.1,-.33],[.25,-.32],[.35,-.32],[.4,-.45],[.25,-.48],[.1,-.5],[.1,-.62],[.12,-.73],[.3,-.55],[.5,-.45],[.5,-.55],[-1.05,-.72],[-1.7,-.95],[-.5,-.98],[-.35,-1],[-.1,-1.15],[-.4,-1.05],[-.15,-.98],[.3,-1.45],[.5,-1.6],[.7,-1.65],[.85,-1.8],[1.5,-1.77],[1.2,-2.1],[1.22,-2.32],[.4,-2.38],[.62,-2.35],[1.55,-2.43],[1.55,-2.5],[1.05,-2.85],[1.15,-2.85],[1.2,-2.85],[1.2,-2.62],[1.3,-2.7],[1.45,-3],[1.45,-3.15],[1.72,-3],[1.72,-3.15],[1.72,-3.2],[1.95,-2.95],[2.05,-3.05],[2.22,-2.85],[2.25,-2.75],[2.25,-2.95],[2,-3.38],[2.1,-3.4],[2.2,-3.37],[2.3,-3.25],[2.4,-3.3],[2.5,-3.33],[2.35,-3.45],[2.45,-3.45],[2.6,-3.55],[2.7,-3.5],[2.8,-3.45],[2.25,-3.65],[2.45,-2.25],[2.75,-2.5],[3,-2.5],[3.1,-2.85],[3.25,-2.5],[3.45,-2.55],[3.05,-3.35],[3.1,-3.3],[3.15,-3.25],[3.2,-3.2],[3.25,-3.15],[3.2,-3.05],[3.3,-3],[3.35,-3.1],[3.4,-2.95],[3.4,-2.75],[3.45,-2.8],[3.5,-3],[3.55,-2.85],[3.6,-2.75],[3.65,-2.85],[3.7,-2.7],[3.75,-2.55],[3.8,-2.4],[3.85,-2.3],[3.9,-2.25],[3.75,-2.5],[3.35,-2.85],[3.25,-2.95],[3.3,-2.7],[3.28,-3.1],[3.33,-2.92],[3.38,-2.85],[3.45,-2.92],[3.5,-2.78],[3.55,-2.7],[3.62,-2.65],[3.42,-3.02],[3.18,-3.12]];
const betweenNon = [[-3.2,.95],[-2.83,1.33],[-2.57,1.63],[-1.87,1.7],[-1.82,1.52],[-1.58,1.65],[-1.4,1.67],[-1.25,1.45],[.23,3.22],[.15,2.97],[.13,3.03],[.03,2.98],[.3,2.75],[.37,2.7],[.28,2.4],[.2,2.18],[-.08,1.55],[-.1,1.58],[.2,1.4],[-.12,1.2],[.4,1.3],[.35,1.1],[.75,1.65],[.5,1.55],[.65,1.5],[-.3,.93],[-.35,.77],[-.4,.72],[-.45,.57],[-.5,.55],[-1,.62],[-.9,.62],[-.8,.45],[-.4,.3],[.3,.18],[.6,.28],[.72,0],[.3,-.75],[-.25,-.97],[-.1,-1],[-2.2,-.6],[-2.55,-.95],[-1.47,-.6],[.95,-1.2],[.22,-1.43],[-.1,-1.52],[.15,-1.88],[.25,-1.9],[.32,-1.93],[-.55,-1.45],[-.55,1.48]];

// LDA
const ldaAudrey = [[7.5,5.4],[6,5.2],[7,4.8],[8,4.7],[8.5,4.2],[7,3.7],[8,3.6],[9,3.5],[10.3,3.2],[6,3],[7,3],[8,3],[9,2.9],[6.5,2.5],[7.5,2.5],[8.5,2.5],[9.4,2.4],[5.5,2.2],[7,2],[8,2],[9,2],[5.3,1.7],[6.5,1.6],[7.5,1.6],[8.5,1.4],[9.5,1.3],[7,1.1],[8,.9],[9.7,.8],[6.2,.9],[9,-.1],[4.4,2.1],[11,-2.7],[9,-2.5],[10,-3],[11.5,-1.9],[12,-1.8],[13,-1.5],[14,-.9],[12.5,-2.5],[9.2,-3.3],[10,-6],[10.5,-5.8],[9.5,-6.5],[10,-7],[10.5,-7.5],[11,-6.5],[11.5,-7.5],[10.5,-8.2],[11,-8.5],[11.5,-8.7],[12,-7],[14,-6],[14.5,-6.5],[15,-5.2],[15.5,-5],[16,-5.5],[14.5,-7.5],[15,-7],[15.5,-6.5],[16,-6.5],[16.5,-6.2],[17,-6.5],[14,-7.5],[15,-7.8],[15.5,-7.5],[16,-7.5],[16.5,-7.2],[17,-7.5],[17.5,-7.5],[18,-7.7],[18.6,-8],[14,-8.3],[14.5,-8.5],[15,-8.5],[15.5,-8.5],[16,-8.3],[16.5,-8.2],[17,-8.2],[14,-9.3],[14.5,-9.5],[15,-9.5],[15.5,-9.2],[16,-9.5],[14.5,-10.3],[15,-10.5],[15.5,-10.3],[15,-11.5],[15.5,-11.2],[1,-10.5],[1,-11.5],[2,-10.8],[2.2,-11.5],[3,-10.5],[3.5,-10.2],[3.3,-11.2],[3,-7],[3.5,-6],[3.2,-9.8],[4,-10],[3.1,-11],[3.4,-9.8],[4.3,-10.8],[14.7,-7],[15.2,-6.2],[15.7,-7],[16.2,-7],[14.8,-8],[15.3,-8],[15.8,-8],[16.3,-7.8],[16.8,-7],[14.3,-7.9],[15.2,-9],[15.7,-9],[14.7,-9],[15.2,-7.3],[16,-6],[15.4,-5.7],[15,-6.2],[8,2.5],[7.5,3],[8.5,3],[8.8,2.2],[8.2,1.8],[7.8,2.2]];
const ldaEddey = [[-.9,-16.3],[1,-15],[.9,-15.8],[.8,-16.3],[.7,-16.5],[2,-15],[-11.4,-2.2],[-13.4,-4],[-11.8,-6.8],[0,12.2],[1,11.3],[1.5,10.8],[2.1,11.4],[3.4,12.1],[2,10.2],[2.2,10.4],[3.5,9.7],[4,10.8],[4.4,9.3],[2.3,8.9],[2.2,8.6],[1.7,8.3],[3.6,8.3],[4.9,7.9],[1.2,7.3],[-.6,4.9],[1.8,4],[3.4,4.9]];
const ldaMan1 = [[-4,-2.8],[-4.7,-4],[-4.2,-4.2],[-3.7,-4],[-3.2,-3.7],[-2.7,-4],[-2.2,-3.5],[-2,-3],[-1,-2.3],[-1.1,-4],[-.8,-3.9],[-4,-5],[-3.5,-4.8],[-3,-4.7],[-2.5,-4.7],[-2,-4.5],[-1.5,-4.8],[-3,-5.3],[-2.5,-5.2],[-2,-5.2],[-1.5,-5.2],[-1,-5.2],[-.5,-5],[0,-5.2],[-4.2,-5],[-2.5,-6],[-2,-5.7],[-.5,-5.5],[.3,-5.5],[.7,-6.5],[-2.9,-7],[-3,-7.7],[.7,-7.7],[1,-8.3],[1.5,-8.5],[1.8,-7.7],[2.3,-8],[2.9,-8.2],[3,-7],[3.5,-6.3],[4,-6],[4.3,-5.3],[4.5,-4.9],[5,-6.3],[5.5,-6.4],[4.2,-7],[5,-7.5],[6,-7.2],[6,-8.2],[6.5,-8],[7,-7],[7.1,-6.3],[7.1,-8],[5,-8.3],[4,-8.8],[3.4,-9],[5.5,-8.3],[6.4,-10.2],[6.5,-10.6],[6,-10.9],[6.5,-11.2],[7,-11.2],[8.5,-11.9],[1.1,-9.5],[4.5,-8.7],[-2.8,-4.3],[-2.4,-4.2],[-2.2,-4.2],[-3.2,-4.4],[-2.6,-3.6]];
const ldaMan2 = [[-14.6,11.9],[-13.7,11.6],[-13.2,11.9],[-12.9,12.5],[-14.6,14.3],[-14,15],[-13.2,15.5],[-12.9,15.9],[-12.5,15.4],[-12.2,16.5],[-12,15.4],[-13,14.9],[-13.7,13.7],[-13.4,13.3],[-13.4,13],[-13,14],[-12.5,14.2],[-12,14],[-11.5,13.7],[-11.8,14],[-11.3,13.9],[-10.9,13.8],[-28.7,-1],[-28.4,-1.3],[-28,-2],[-27.8,-.7],[-27.5,-1.2],[-27,-1.6],[-26.5,-2],[-26,-1.5],[-25.5,-1],[-28,-2.5],[-27.5,-2.3],[-27,-2.4],[-26.5,-2.5],[-26,-2.5],[-25.5,-2.3],[-28,-3],[-27.5,-3],[-27,-3],[-26.5,-3],[-26,-3],[-25.5,-3],[-25,-2.8],[-28,-3.7],[-27,-3.6],[-26.5,-3.5],[-25.8,-3.7],[-27.5,-4.3],[-26.4,-3.9],[-26,-5.3],[-25.8,-5.3],[-24.4,-2.9],[-24,-1.1],[-23.6,-.9],[-22.5,-2.3],[-20.3,-2],[-24.4,-3.2],[-18.2,-10.9],[-16.5,-10.3],[-14.3,-10.8],[-17.7,-12.5],[-17,-12.3],[-16.8,-11.5],[-16.5,-12.5],[-16.4,-13.2],[-15.7,-11.7],[-15.8,-11.4],[-15.2,-12.8],[-15,-11.7],[-14.7,-13],[-14.5,-12],[-13.4,-11.9],[-14.6,-12.9],[-12.2,-10.2],[-11.1,-13.7],[-7.9,-9.4],[-6.3,-10.2],[-6.3,-10],[-5.2,-10.2],[-5,-10.1],[-4.9,-10.1],[-27.8,-1.7],[-27.3,-1.9],[-27.7,-2.7],[-27.2,-2.7],[-26.7,-2.7],[-26.2,-2.2],[-27.3,-2.2],[-26.8,-2.1],[-27.7,-3.3],[-27.2,-3.3],[-26.7,-3.3],[-26.2,-3.4],[-25.7,-2.6],[-25.6,-1.8],[-28.3,-2.2],[-27.4,-3.7],[-27,-4],[-26.9,-1.1]];
const ldaMan3 = [[-15.1,-2.3],[-15.1,-3.1],[-14.5,-2.8],[-14,-3.2],[-13.4,-3.2],[-13.3,-3.8],[-13.2,-1.5],[-13,-1.5],[-11.9,-3.8],[-11.9,-4.2],[.1,-16.5],[1.3,-16.8],[1.8,-15.5],[2,-15],[2.2,-14.7],[2.7,-14.5],[3,-14],[3.4,-14],[4,-13.8],[5,-13.6],[2.4,-15.7],[2.7,-16.3],[3,-15.5],[3.3,-16],[3.6,-15.5],[3.9,-16.2],[4.3,-16],[4.6,-15.8],[5,-15.9],[3.2,-17],[3.8,-17],[4.2,-16.9],[4.4,-16.7],[2.3,-16.8]];
const ldaMan4 = [[11.3,-2.5],[13,-1.4],[15.5,-3.2],[11.8,-5.4],[12.3,-5],[13.4,-5],[14,-6.7],[12.9,-7.5],[12.9,-8.5],[14.1,-8.5],[14,-9],[15.3,-9],[14,-9.6],[10.7,-9],[10.9,-9.8],[12.1,-9.4],[12.3,-9.9],[11.7,-10.3],[12.3,-10.4],[12.5,-10.5],[10.5,-11],[11.9,-11.2],[12.6,-11.4],[13.2,-10.8],[13.3,-11.2],[14.7,-11],[11.8,-12],[12.5,-12],[13,-12.2],[13.6,-11.8],[12,-12.5]];
const ldaWomen1 = [[-25.3,-3.9],[-24.2,-4],[-24,-4.1],[-23.5,-3.5],[-23.2,-3],[-23.1,-4.5],[-23,-5.2],[-22.7,-5.1],[-23,-3.5],[-22.8,-3],[-22.5,-2],[-22.3,-1.5],[-22.9,-1.2],[-22.2,-2.8],[-22,-2.4],[-21.7,-3.2],[-21.2,-2.6],[-21,-3],[-20.8,-3.5],[-20.3,-3],[-22.6,-3.5],[-22.4,-3.7],[-22.2,-3.4],[-22,-3.7],[-21.8,-3.9],[-21.4,-3.6],[-22.4,-4.2],[-22.2,-4.4],[-21.8,-4.4],[-21.4,-4.2],[-21,-4],[-22.6,-4.5],[-21.8,-4.8],[-21.2,-4.5],[-22,-5],[-11.2,-6.6],[-10.6,-5.8],[-10.6,-7.6],[-10.8,-7.8],[-10,-7.2],[-9.5,-7],[-9,-6.8],[-8.4,-6.8],[-7.8,-6.9],[-7,-6.7],[-7,-7.4],[-10.5,-8.8],[-9.5,-9],[-9.3,-8.8],[-9,-8.7],[-9,-8.2],[-8.9,-7.8],[-9.2,-8],[-7.8,-8.5],[-7,-8.5],[-7.8,-10],[-6.2,-9.6],[-4.5,-12],[-4.2,-10.9],[-4.2,-11.3],[-4,-12],[-3.3,-12.6],[-2.8,-10.8],[-2.2,-10.4],[-1.9,-10.5],[-.9,-8.6],[-.9,-6.8],[3,-8.4],[3.4,-8.6],[4.6,-8.7],[4.4,-9.7],[-3.6,-9.8],[-4,-10.3]];
const ldaWomen2 = [[5.9,19.9],[5.8,17.6],[3.6,16.1],[7.3,14.9],[7.9,15],[8.6,14.5],[9,14.3],[7.2,14.2],[8,14],[7.9,13.2],[8,12.8],[8.4,13.1],[7.3,11.9],[7.8,11.8],[8.5,12],[8.7,12.5],[9,12],[9.5,11.5],[8.6,11.5],[9,11.2],[8.8,11],[9.3,10.8],[8.7,10.4],[9.6,10.7],[10.5,10.3],[8.9,10.8],[3.7,1.6],[8.2,.8],[6.2,1.4],[2.8,-.9],[3.6,-1.9],[5,-1.4]];
const ldaGregory = [[.2,18.6],[1,19.2],[.7,19],[.9,18.5],[1.2,19.5],[1.4,18.6],[1.7,18.4],[2,19],[2.5,18.5],[1,17.5],[1.5,17.6],[2,17.4],[3.2,18.3],[3.4,18.8],[3.6,18.4],[3.8,18.7],[4,18.4],[4.2,18.2],[3.5,18],[3.8,18],[4.1,17.7],[4.4,17.9],[4.6,18],[3,19],[3.6,19.2],[4.3,18.8],[4.7,17.5],[5,17],[4.8,16.5],[0,16.2],[1.9,16.4],[5.5,14.7],[4.8,14.2],[5.4,13.5],[.5,11],[.2,10],[1,10.5],[1.8,9.5],[1.4,9.8],[1,9.2],[3,11.5],[2.5,10.5],[3.5,8],[3.2,7.6],[3.3,6.7],[2.5,7.2],[5.5,9.2],[5.1,5.5],[-3.5,3.3],[-2,4.1],[-1.2,4.5],[-1.5,3.2],[-1.3,2.9],[-1,3.6],[-.7,3.3],[-.5,3.6],[-.3,3],[-1.9,2.9],[-2,2.5],[-1.7,2.1],[-1.2,2.4],[-.8,2.8],[-1,3.1],[.3,3.4],[.4,2.8],[-.5,2.5],[-.1,2],[0,1.5],[-.1,-.7]];
const ldaNon = [[-7.2,11.1],[-7.9,9.9],[-7.2,9.3],[-6.8,9.3],[-6.2,10.8],[-6,9.9],[-5.8,8.9],[-5.4,10.4],[-5.2,9.7],[-5.1,8.9],[-4.4,11.3],[-3.4,7],[-7.8,-4.4],[-4.9,-5.1],[-4.3,-7],[-4,-7.9],[-3.2,-9.8],[-4.6,-9.9],[-5.9,-9.2],[-6.1,-9.5],[-6.3,-9.8],[-6,-11.4],[-9.4,-11],[-1.7,-7.4],[1.3,-10],[2.9,-6.4],[3.3,-6.2],[3.6,-5.8],[9.8,-5.8],[10.1,-5.6],[10,-6.5],[9.4,-6.5],[10.5,-7],[10.2,-7.7],[10,-8.3],[11,-8.2],[11.8,-7],[12.5,-7],[11.4,-4.5],[11.8,-8.5],[14.5,-10],[15.5,-9.3],[15.3,-10],[14.8,-10.5],[15.1,-11.5],[15.8,-8.9],[16,-9.6],[16.4,-8.4],[15.1,-11],[-3.2,-9.6]];

// LPP
const lppAudrey = [[.0227,.0315],[.0199,.0114],[.0197,.0112],[.0192,.0122],[.0187,.0115],[.0185,.0109],[.0188,.0104],[.0191,.0109],[.0194,.0113],[.0196,.0105],[.0186,.0098],[.019,.0098],[.0193,.0102],[.0198,.0099],[.02,.0094],[.0202,.0085],[.0186,.0089],[.0192,.009],[.0195,.0092],[.0199,.0088],[.0191,.0083],[.0194,.0085],[.0197,.0081],[.0201,.0078],[.0194,.0075],[.0197,.0072],[.0198,.0065],[.0202,.0066],[.0205,.0067],[.0199,.0053],[.0205,.0042],[.0202,.0044],[.0198,.0047],[.02,.0037],[.0203,.0025],[.0206,.0038],[.0208,.0037],[.0199,.0022],[.0201,.0012],[.0204,.0015],[.0206,.0018],[.0208,.0014],[.021,.0016],[.0212,.0027],[.0212,.0019],[.0212,.0046],[.0205,.001],[.0207,.001],[.0209,.0008],[.021,.0005],[.0203,.001],[.0201,.0008],[.0198,.0015],[.0194,.0014],[.0197,.0031],[.0158,.0112],[.0163,.0162],[.0161,.0062],[.0181,.0114],[.018,.0033],[.0192,-.0005],[.0193,.0005],[.0196,.001],[.0196,.0001],[.0164,.014],[.0169,.0152],[.0179,.0185],[.0182,.026],[.0178,.0205],[.0174,.0224],[.0176,.0126],[.0172,.0108],[.0186,.0117],[.0188,.0108],[.0196,.0112],[.0189,.0101],[.0191,.0104],[.0193,.0097],[.0195,.0099],[.0189,.0093],[.0191,.0094],[.0193,.0108],[.0195,.0107],[.0197,.0095],[.0199,.0096],[.0192,.0114],[.019,.0115],[.0188,.0095],[.0204,.0022],[.0205,.0019],[.0206,.0013],[.0207,.0017],[.0208,.0021],[.0209,.0013],[.0203,.0016],[.0204,.0008],[.0202,.002],[.0188,.0087],[.019,.0088]];
const lppEddey = [[.0134,.02],[.0151,.0241],[.016,.0277],[.0158,.0185],[.0169,.026],[.0169,.0194],[.0161,.0159],[.0159,.0141],[.0162,.0152],[.0172,.015],[.0171,.0302],[.0155,.0095],[.0154,.002],[.0176,-.0028],[.018,-.0047],[.0183,-.005],[.0187,-.005],[.0191,-.004],[.0189,-.0038],[.0193,-.0063],[.0191,-.0075],[.019,-.0081],[.0188,-.0093],[.0174,-.0061],[.0169,-.0074],[.0171,-.0081],[.0173,-.0088],[.0176,-.0081],[.0177,-.0081],[.0179,-.0085],[.0178,-.01],[.018,-.0089]];
const lppMan1 = [[.019,.0201],[.0188,.0193],[.0186,.0192],[.0185,.0185],[.0183,.0185],[.0187,.018],[.0181,.0181],[.0192,.0175],[.0194,.0178],[.0196,.0172],[.0178,.0176],[.0177,.0175],[.0179,.016],[.018,.016],[.0183,.0155],[.0185,.0155],[.0187,.016],[.0189,.016],[.0191,.0155],[.0182,.015],[.0184,.015],[.0186,.0145],[.0188,.0148],[.019,.015],[.0192,.014],[.0185,.014],[.0187,.014],[.0189,.0138],[.018,.0143],[.0178,.014],[.0175,.014],[.0193,.0155],[.0194,.0148],[.0186,.012],[.0188,.012],[.0192,.013],[.0195,.0128],[.017,.014],[.0171,.0146],[.0169,.0146],[.0168,.0128],[.0165,.0123],[.0165,.0118],[.0167,.0115],[.017,.0112],[.0165,.01],[.0169,.01],[.0185,.01],[.0184,.0093],[.0186,.0075],[.0188,.0075],[.0183,.0082],[.0182,.0068],[.0186,.0052],[.0188,.0063],[.0174,.0075],[.0175,.0062],[.0176,.0055],[.0174,.005],[.0178,.0063],[.0191,.0042],[.017,.0045],[.0175,.014],[.0184,.0158],[.0186,.0152],[.0188,.0155],[.0185,.0148],[.0187,.015],[.0189,.0145],[.0186,.0138],[.0188,.0135],[.0183,.0145],[.019,.0142]];
const lppMan2 = [[.0151,.0343],[.0151,.032],[.0153,.0285],[.0155,.0252],[.016,.0277],[.0161,.0285],[.0161,.0231],[.0163,.0318],[.0165,.0288],[.0165,.033],[.0167,.032],[.0167,.0325],[.0164,.0335],[.0163,.0348],[.0165,.0352],[.0167,.0358],[.0169,.0352],[.0171,.0358],[.0173,.0355],[.0162,.036],[.0165,.0362],[.0167,.0368],[.0169,.036],[.0171,.0362],[.0173,.036],[.0166,.0345],[.0168,.0342],[.017,.0345],[.0172,.0345],[.0174,.0342],[.0174,.0332],[.016,.0348],[.0177,.034],[.0179,.033],[.018,.0345],[.0181,.0322],[.0178,.0332],[.0182,.0365],[.0183,.0365],[.0184,.035],[.0185,.035],[.0186,.0375],[.0186,.0342],[.0186,.0316],[.0187,.0302],[.0188,.0355],[.0188,.036],[.0189,.0375],[.0165,.0211],[.0168,.0215],[.0169,.0207],[.017,.0218],[.0169,.0025],[.017,.002],[.0172,.002],[.0176,.0018],[.0167,.0002],[.0167,-.0008],[.0167,-.0019],[.0169,-.0009],[.017,-.0006],[.0171,0],[.0172,-.0005],[.017,-.0025],[.0171,-.0025],[.0173,-.0005],[.0174,-.0012],[.0175,-.0013],[.0174,-.002],[.0174,-.0025],[.0175,.0002],[.0171,.0037],[.0168,.0355],[.017,.0355],[.0172,.0352],[.0166,.0352],[.0169,.0348],[.0171,.0348],[.0167,.0348],[.0173,.0348],[.0164,.0355],[.0168,.036],[.017,.0352],[.0171,-.0003],[.017,-.0001],[.0172,-.0009]];
const lppMan3 = [[.0157,.0213],[.0159,.0192],[.0164,.0236],[.0167,.0235],[.0168,.0237],[.0169,.0238],[.017,.0245],[.0171,.0232],[.0172,.0225],[.0173,.0235],[.0174,.0248],[.0175,.0237],[.0176,.0235],[.0178,.024],[.0179,.023],[.018,.0232],[.0181,.0235],[.0168,.0206],[.0169,.0195],[.0171,.0216],[.0173,.021],[.0175,.0218],[.0177,.0205],[.0178,.0203],[.0173,.0188],[.0176,.0183],[.0183,.0207],[.0184,.0207],[.0172,.0222]];
const lppMan4 = [[.0155,.0092],[.0156,.0094],[.0158,.0102],[.0159,.0122],[.016,.012],[.0161,.0127],[.0163,.0122],[.0163,.0137],[.0165,.014],[.0166,.0102],[.0167,.0102],[.0168,.0095],[.0169,.0097],[.0167,.014],[.0169,.0127],[.0169,.0112],[.0172,.0122],[.0173,.0118],[.0173,.0104],[.0171,.0091],[.0174,.0078],[.0176,.0103],[.0176,.0163],[.0166,.0064],[.0168,.0025],[.0172,.0012],[.0174,.0008],[.0179,.0006],[.0178,.0052],[.018,.0054],[.0182,.008],[.0184,.0073],[.0183,.0063],[.0185,.0065],[.0186,.0088],[.0182,-.0071]];
const lppWomen1 = [[.0134,.0345],[.0141,.03],[.0144,.031],[.0149,.032],[.015,.0328],[.0149,.0291],[.0152,.027],[.0152,.0358],[.0154,.0345],[.0154,.0335],[.0155,.0328],[.0156,.0345],[.0157,.0338],[.0157,.037],[.0159,.0355],[.016,.0365],[.0161,.0375],[.0159,.0335],[.016,.0345],[.0161,.0342],[.0162,.0345],[.0163,.0365],[.0164,.0375],[.0165,.0372],[.0165,.036],[.0167,.0358],[.0163,.0332],[.016,.033],[.0158,.032],[.0158,.0305],[.0155,.0305],[.0159,.0292],[.0161,.0297],[.0163,.0298],[.0165,.0186],[.0156,.0188],[.0159,.0185],[.0162,.0188],[.0164,.0182],[.0158,.0148],[.0169,.0275],[.0169,.0272],[.0174,.0275],[.0168,.024],[.0167,.0232],[.0169,.0223],[.0172,.0215],[.0166,.0208],[.0175,.021],[.0176,.0205],[.0177,.02],[.0176,.0192],[.0177,.0195],[.0178,.0198],[.0179,.0205],[.0178,.019],[.0179,.0228],[.018,.0215],[.0182,.02],[.0177,.0175],[.0172,.0173],[.0174,.0166],[.0202,.028]];
const lppWomen2 = [[.0168,-.0085],[.0186,-.0167],[.0193,-.0111],[.0194,-.0113],[.0195,-.0125],[.0196,-.0127],[.0197,-.0108],[.0199,-.0105],[.0198,-.012],[.0198,-.0127],[.0201,-.0095],[.0202,-.0125],[.0203,-.012],[.0204,-.0128],[.0208,-.0109],[.021,-.0116],[.0206,-.0142],[.0195,-.0043],[.0195,.0024],[.0192,.0041],[.0176,.0105],[.0176,.011],[.0178,.0145],[.0196,-.0178],[.0197,-.018],[.0197,-.0165],[.0198,-.016],[.0199,-.017],[.02,-.0165],[.0201,-.0172],[.0201,-.0155],[.0202,-.0163],[.0202,-.0172],[.0203,-.0168],[.02,-.018],[.0198,-.0175]];
const lppGregory = [[.0176,.0105],[.0189,.0062],[.019,.0058],[.0191,.0055],[.0192,.0053],[.019,.0045],[.0189,.0047],[.0193,.0045],[.0194,.006],[.0196,.0052],[.0197,.0042],[.0195,.0017],[.0196,.0004],[.0193,-.0022],[.0197,-.0035],[.0198,-.0035],[.0195,-.0055],[.0197,-.0055],[.02,-.0028],[.0203,-.0033],[.02,-.0065],[.0186,-.0037],[.0187,-.0035],[.0188,-.0033],[.0203,-.0078],[.0205,-.009],[.021,-.007],[.0194,-.0135],[.0212,-.0135],[.0213,-.0165],[.0189,-.0173],[.0201,-.0145],[.0202,-.0148],[.0204,-.0148],[.0207,-.0155],[.0203,-.016],[.0204,-.0165],[.0205,-.017],[.0206,-.017],[.0207,-.0172],[.0208,-.0175],[.0209,-.0178],[.0205,-.0175],[.0204,-.018],[.0206,-.0178],[.0207,-.018],[.0208,-.0182],[.0209,-.0182],[.021,-.0182],[.0203,-.0178],[.0202,-.0178],[.0205,-.0183],[.0208,-.0185],[.0206,-.0182],[.0207,-.0184],[.0209,-.0185],[.021,-.0178],[.0204,-.0172],[.0206,-.0175]];
const lppNon = [[.0148,.0033],[.015,.0028],[.0149,.0008],[.0152,.0002],[.0151,.0011],[.0153,.0016],[.0155,.003],[.0156,.0043],[.0157,.0028],[.0158,.0022],[.0159,.0012],[.016,.005],[.0161,.003],[.0162,.0027],[.0163,.004],[.0164,.0017],[.0164,.0032],[.0165,.003],[.0166,.0012],[.0167,.0038],[.0168,.0035],[.0172,.0035],[.0175,.0012],[.0177,.0012],[.0178,.0005],[.0183,.0035],[.0185,.0014],[.0187,-.0008],[.0188,.0002],[.0191,.0003],[.0157,.0248],[.0159,.0186],[.0162,.0184],[.0163,.0305],[.0159,.0338],[.0169,.0335],[.0166,.0238],[.017,.0248],[.0177,.0227],[.0178,.0265],[.0173,.0138],[.0175,.0142],[.0178,.0148],[.0179,.0125],[.0183,.0055],[.0188,.006],[.0187,.0115],[.0192,.0125],[.0198,.0125],[.0199,.0142],[.0203,.0132],[.0207,.0142],[.0214,.0122],[.0202,.0093],[.0205,.0075],[.0204,.0085],[.0206,.0078],[.0201,.0142]];

const allDomainX = [-1.5, 1.5];
const allDomainY = [-1, 1];
const allTicksX = [-1.5, -1, -0.5, 0, 0.5, 1, 1.5];
const allTicksY = [-1, -0.8, -0.6, -0.4, -0.2, 0, 0.2, 0.4, 0.6, 0.8, 1];
const withinDomainX = [-4, 5];
const withinDomainY = [-4, 4];
const withinTicksX = [-4, -3, -2, -1, 0, 1, 2, 3, 4, 5];
const withinTicksY = [-4, -3, -2, -1, 0, 1, 2, 3, 4];
// the right end of this panel runs off the page in the original
const betweenDomainX = [-5, 4];
const betweenTicksX = [-5, -4, -3, -2, -1, 0, 1, 2, 3];
const ldaDomainX = [-30, 20];
const ldaDomainY = [-20, 20];
const ldaTicksX = [-30, -25, -20, -15, -10, -5, 0, 5, 10, 15, 20];
const ldaTicksY = [-20, -15, -10, -5, 0, 5, 10, 15, 20];
const lppDomainX = [0.013, 0.023];
const lppDomainY = [-0.02, 0.04];
const lppTicksX = [0.013, 0.014, 0.015, 0.016, 0.017, 0.018, 0.019, 0.02, 0.021, 0.022, 0.023];
const lppTicksY = [-0.02, -0.01, 0, 0.01, 0.02, 0.03, 0.04];

const panels = [
  { title: "PCA-ALL", titleX: 198, titleY: 290, titleW: 117, left: 21, right: 357, top: 14.7, bottom: 255, xDomain: allDomainX, yDomain: allDomainY, xTicks: allTicksX, yTicks: allTicksY, legendX: 322, legendTop: 21,
    series: [allAudrey, allEddey, allMan1, allMan2, allMan3, allMan4, allWomen1, allWomen2, allGregory, allNon] },
  { title: "PCA-WITHIN", titleX: 588, titleY: 290, titleW: 170, left: 399.3, right: 743.3, top: 14.7, bottom: 255, xDomain: withinDomainX, yDomain: withinDomainY, xTicks: withinTicksX, yTicks: withinTicksY, legendX: 709, legendTop: 21,
    series: [withinAudrey, withinEddey, withinMan1, withinMan2, withinMan3, withinMan4, withinWomen1, withinWomen2, withinGregory, withinNon] },
  { title: "PCA-BETWEEN", titleX: 961, titleY: 290, titleW: 204, left: 786, right: 1131, top: 14.7, bottom: 255, xDomain: betweenDomainX, yDomain: withinDomainY, xTicks: betweenTicksX, yTicks: withinTicksY, legendX: 1096, legendTop: 21,
    series: [betweenAudrey, betweenEddey, betweenMan1, betweenMan2, betweenMan3, betweenMan4, betweenWomen1, betweenWomen2, betweenGregory, betweenNon] },
  { title: "LDA", titleX: 380, titleY: 607, titleW: 53, left: 210, right: 550, top: 331, bottom: 572.7, xDomain: ldaDomainX, yDomain: ldaDomainY, xTicks: ldaTicksX, yTicks: ldaTicksY, legendX: 515.7, legendTop: 338,
    series: [ldaAudrey, ldaEddey, ldaMan1, ldaMan2, ldaMan3, ldaMan4, ldaWomen1, ldaWomen2, ldaGregory, ldaNon] },
  { title: "LPP", titleX: 755, titleY: 607, titleW: 50, left: 605.7, right: 936.7, top: 332.3, bottom: 572.7, xDomain: lppDomainX, yDomain: lppDomainY, xTicks: lppTicksX, yTicks: lppTicksY, legendX: 904, legendTop: 337.5,
    series: [lppAudrey, lppEddey, lppMan1, lppMan2, lppMan3, lppMan4, lppWomen1, lppWomen2, lppGregory, lppNon] },
];

// gnuplot style marks, one drawer per series
const triUp = (s) => `M0,${-s * 0.6}L${s * 0.55},${s * 0.4}L${-s * 0.55},${s * 0.4}Z`;
const triDown = (s) => `M0,${s * 0.6}L${s * 0.55},${-s * 0.4}L${-s * 0.55},${-s * 0.4}Z`;
const square = (s) => `M${-s / 2},${-s / 2}H${s / 2}V${s / 2}H${-s / 2}Z`;
const marks = [
  { d: "M-2.3,0H2.3M0,-2.3V2.3", fill: "none", stroke: "#ff0000", sw: 1.1 },
  { d: "M-2,-2L2,2M-2,2L2,-2", fill: "none", stroke: "#00ff00", sw: 1.1 },
  { d: square(4), fill: "#0000ff", stroke: "none", sw: 0 },
  { d: square(4.4), fill: "none", stroke: "#ff00ff", sw: 1.2 },
  { d: square(5), fill: "#00ffff", stroke: "none", sw: 0 },
  { d: d3.symbol(d3.symbolCircle, Math.PI * 5)(), fill: "none", stroke: "#ffff00", sw: 1.3 },
  { d: d3.symbol(d3.symbolCircle, Math.PI * 3.6)(), fill: "#000000", stroke: "none", sw: 0 },
  { d: triUp(5.4), fill: "#ff4500", stroke: "none", sw: 0 },
  { d: triUp(3.2), fill: "#808080", stroke: "none", sw: 0 },
  { d: triDown(5.4), fill: "#ff0000", stroke: "none", sw: 0 },
];

const svg = d3.select("#chart");
const legendStep = 7.42;

panels.forEach(function (p) {
  const xScale = d3.scaleLinear().domain(p.xDomain).range([p.left, p.right]);
  const yScale = d3.scaleLinear().domain(p.yDomain).range([p.bottom, p.top]);
  const g = svg.append("g");

  // inward ticks on all four sides, labels only bottom and left
  const tickFmt = (d) => String(+d.toFixed(4));
  const axisB = g.append("g").attr("transform", `translate(0,${p.bottom})`)
    .call(d3.axisBottom(xScale).tickValues(p.xTicks).tickFormat(tickFmt).tickSize(-3).tickPadding(4));
  const axisL = g.append("g").attr("transform", `translate(${p.left},0)`)
    .call(d3.axisLeft(yScale).tickValues(p.yTicks).tickFormat(tickFmt).tickSize(-3).tickPadding(4));
  const axisT = g.append("g").attr("transform", `translate(0,${p.top})`)
    .call(d3.axisTop(xScale).tickValues(p.xTicks).tickFormat("").tickSize(-3));
  const axisR = g.append("g").attr("transform", `translate(${p.right},0)`)
    .call(d3.axisRight(yScale).tickValues(p.yTicks).tickFormat("").tickSize(-3));
  [axisB, axisL, axisT, axisR].forEach((a) => {
    a.selectAll(".domain").attr("stroke", "#000").attr("stroke-width", 1.3);
    a.selectAll(".tick line").attr("stroke", "#000").attr("stroke-width", 0.8);
    a.selectAll("text").attr("font-family", "Liberation Sans").attr("font-size", 8).attr("fill", "#222");
  });

  // legend text sits under the points in the original plots
  seriesNames.forEach(function (name, i) {
    const y = p.legendTop + i * legendStep;
    g.append("text").attr("x", p.legendX).attr("y", y).attr("dy", "0.35em")
      .attr("text-anchor", "end").attr("font-family", "Liberation Sans").attr("font-size", 8)
      .attr("fill", "#222").text(name);
    const m = marks[i];
    g.append("path").attr("d", m.d).attr("transform", `translate(${p.legendX + 15},${y})`)
      .attr("fill", m.fill).attr("stroke", m.stroke).attr("stroke-width", m.sw);
  });

  p.series.forEach(function (points, i) {
    const m = marks[i];
    g.append("g").selectAll("path").data(points).enter().append("path")
      .attr("d", m.d)
      .attr("transform", (d) => `translate(${xScale(d[0])},${yScale(d[1])})`)
      .attr("fill", m.fill).attr("stroke", m.stroke).attr("stroke-width", m.sw);
  });

  g.append("text").attr("x", p.titleX).attr("y", p.titleY).attr("text-anchor", "middle")
    .attr("font-family", "Liberation Serif").attr("font-size", 26).attr("fill", "#000")
    .attr("textLength", p.titleW).attr("lengthAdjust", "spacingAndGlyphs").text(p.title);
});
</script>
</body>
</html>
